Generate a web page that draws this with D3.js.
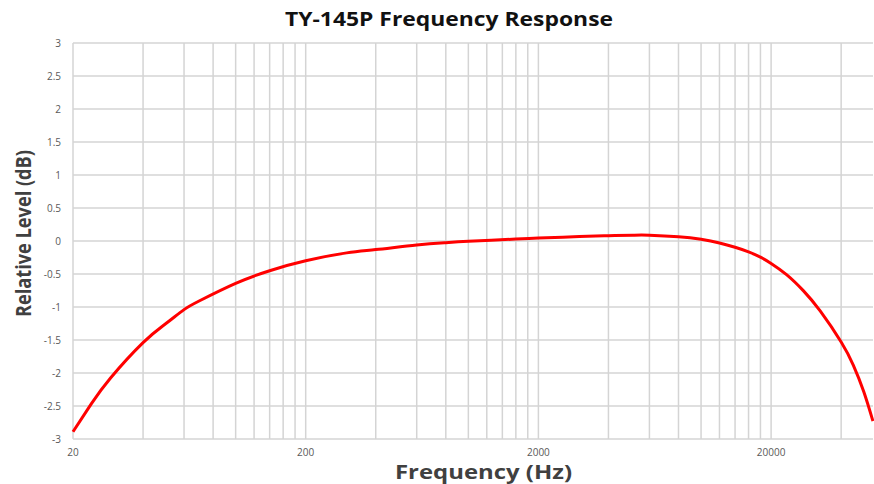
<!DOCTYPE html>
<html>
<head>
<meta charset="utf-8">
<script src="https://cdn.jsdelivr.net/npm/d3@7"></script>
<style>
  body { margin: 0; background: #fff; }
  svg { display: block; font-family: "Open Sans", sans-serif; }
</style>
</head>
<body>
<svg></svg>
<script>
const freqs = [20, 24, 29, 40, 50, 60, 70, 100, 140, 200, 300, 400, 600, 800, 1000, 1600, 2000, 3000, 4000, 5100, 6000, 8000, 10000, 12000, 14000, 16000, 18000, 20000, 23300, 27500, 32500, 40000, 45100, 50000, 54800];
const levels = [-2.89, -2.465, -2.075, -1.54, -1.254, -1.04, -0.905, -0.642, -0.45, -0.30, -0.18, -0.13, -0.06, -0.025, -0.005, 0.03, 0.045, 0.067, 0.08, 0.088, 0.088, 0.065, 0.025, -0.03, -0.095, -0.165, -0.245, -0.34, -0.51, -0.752, -1.06, -1.53, -1.88, -2.28, -2.73];
const yTicks = [-3, -2.5, -2, -1.5, -1, -0.5, 0, 0.5, 1, 1.5, 2, 2.5, 3];
const majorX = [20, 200, 2000, 20000];

const width = 874, height = 484;
const margin = { top: 43, right: 1, bottom: 45, left: 73 };
const decade = 232.7; // px per decade in the reference

const svg = d3.select("svg").attr("width", width).attr("height", height);

const x = d3.scaleLog()
  .domain([20, 20 * Math.pow(10, (width - margin.right - margin.left) / decade)])
  .range([margin.left, width - margin.right]);

const y = d3.scaleLinear()
  .domain([-3, 3])
  .range([height - margin.bottom, margin.top]);

// grid values: 20*k in each decade (Excel style minor lines)
const gridX = [];
majorX.forEach(function (m) {
  for (let k = 1; k <= 9; k++) {
    const v = m * k;
    if (v <= x.domain()[1]) gridX.push(v);
  }
});

const grid = svg.append("g").attr("class", "grid");

grid.selectAll(".hline")
  .data(yTicks)
  .enter()
  .append("line")
  .attr("x1", margin.left)
  .attr("x2", width - margin.right)
  .attr("y1", function (d) { return y(d); })
  .attr("y2", function (d) { return y(d); })
  .attr("stroke", "#d4d4d4")
  .attr("stroke-width", 1.5);

grid.selectAll(".vline")
  .data(gridX)
  .enter()
  .append("line")
  .attr("x1", function (d) { return x(d); })
  .attr("x2", function (d) { return x(d); })
  .attr("y1", y(3))
  .attr("y2", y(-3))
  .attr("stroke", "#d4d4d4")
  .attr("stroke-width", 1.5);

// tick labels
svg.append("g")
  .selectAll("text")
  .data(yTicks)
  .enter()
  .append("text")
  .attr("x", 61)
  .attr("y", function (d) { return y(d); })
  .attr("dy", "0.35em")
  .attr("text-anchor", "end")
  .attr("font-size", 10)
  .attr("fill", "#595959")
  .text(function (d) { return d; });

svg.append("g")
  .selectAll("text")
  .data(majorX)
  .enter()
  .append("text")
  .attr("x", function (d) { return x(d); })
  .attr("y", y(-3) + 17)
  .attr("text-anchor", "middle")
  .attr("font-size", 10)
  .attr("fill", "#595959")
  .text(function (d) { return d; });

// response curve
const line = d3.line()
  .x(function (d) { return x(d[0]); })
  .y(function (d) { return y(d[1]); })
  .curve(d3.curveNatural);

svg.append("path")
  .datum(freqs.map(function (f, i) { return [f, levels[i]]; }))
  .attr("d", line)
  .attr("fill", "none")
  .attr("stroke", "#ff0000")
  .attr("stroke-width", 3);

// title and axis labels
svg.append("text")
  .attr("x", 285)
  .attr("y", 26)
  .attr("font-size", 19)
  .attr("font-weight", "bold")
  .attr("fill", "#111")
  .attr("textLength", 328)
  .attr("lengthAdjust", "spacingAndGlyphs")
  .text("TY-145P Frequency Response");

svg.append("text")
  .attr("x", 395)
  .attr("y", 479)
  .attr("font-size", 20)
  .attr("font-weight", "bold")
  .attr("fill", "#404040")
  .attr("textLength", 177)
  .attr("lengthAdjust", "spacingAndGlyphs")
  .text("Frequency (Hz)");

svg.append("text")
  .attr("transform", "translate(31,317) rotate(-90)")
  .attr("font-size", 22)
  .attr("font-weight", "bold")
  .attr("fill", "#404040")
  .attr("textLength", 167)
  .attr("lengthAdjust", "spacingAndGlyphs")
  .text("Relative Level (dB)");
</script>
</body>
</html>
